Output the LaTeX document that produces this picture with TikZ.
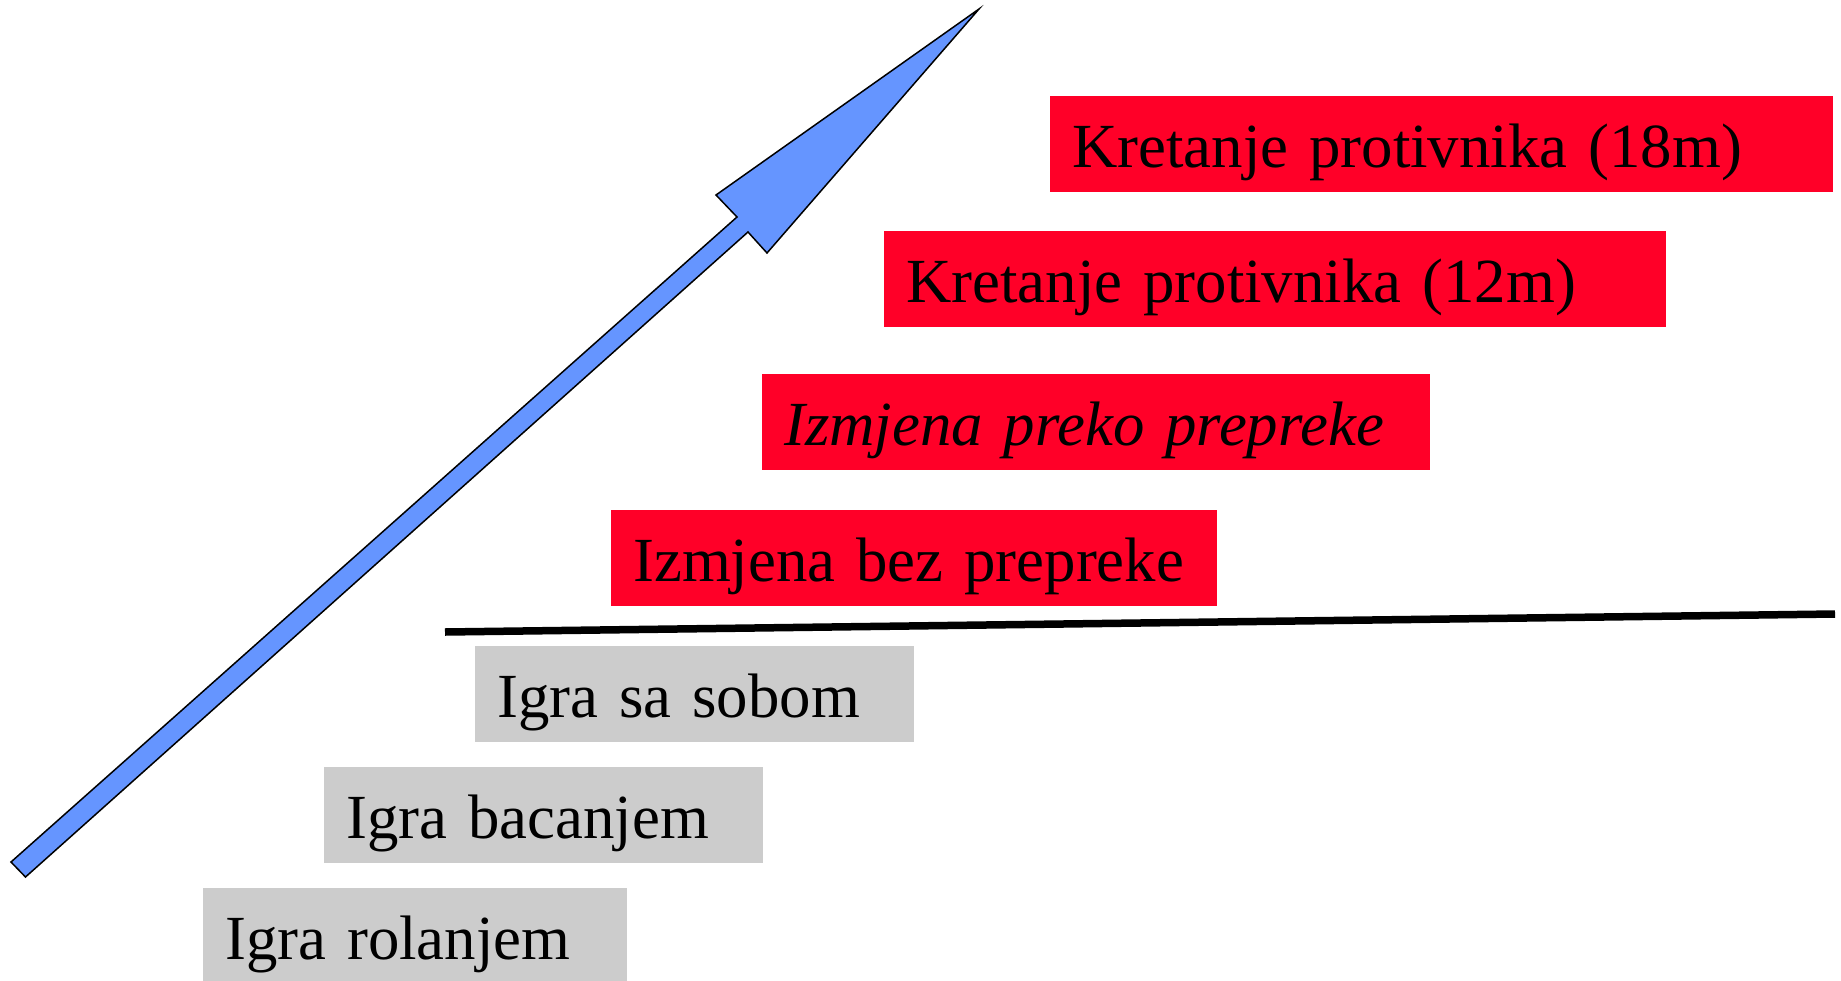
\documentclass[tikz,border=0pt]{standalone}
\usepackage{fontspec}
\setmainfont{Liberation Serif}
\usepackage{xcolor}
\usetikzlibrary{positioning}

\definecolor{boxred}{RGB}{255,0,40}
\definecolor{boxgray}{RGB}{204,204,204}
\definecolor{arrowblue}{RGB}{101,149,255}

\begin{document}
\begin{tikzpicture}[x=1pt,y=-1pt]
  \tikzset{stage/.style = {anchor=south west, inner xsep=22pt, inner ysep=0pt, text height=71.5pt, text depth=24.5pt, align=left, font=\fontsize{62.8}{70}\selectfont}}
    \tikzset{redstage/.style = {stage, fill=boxred}}
    \tikzset{graystage/.style = {stage, fill=boxgray}}
  \tikzset{bigarrow/.style = {fill=arrowblue, draw=black, line width=1.5pt, line join=miter}}

  \useasboundingbox (0,0) rectangle (1841,980);

	\node[redstage, text width=739pt] (K18) at (1050,192) {Kretanje protivnika (18m)};
	\node[redstage, text width=738pt] (K12) at (884,327) {Kretanje protivnika (12m)};
	\node[redstage, text width=624pt] (IP) at (762,470) {\itshape Izmjena preko prepreke};
	\node[redstage, text width=562pt] (IB) at (611,606) {Izmjena bez prepreke};

	\node[graystage, text width=395pt] (IS) at (475,742) {Igra sa sobom};
	\node[graystage, text width=395pt] (IBa) at (324,863) {Igra bacanjem};
	\node[graystage, text width=380pt] (IR) at (203,984) {Igra rolanjem};

	\coordinate (lineL) at (445,632);
	\coordinate (lineR) at (1835,614);
	\draw[line width=7.5pt] (lineL) -- (lineR);

    % arrow
    \filldraw[bigarrow] (11,862) -- (737,217) -- (716,195) -- (979,9) -- (767,253) -- (748,232) -- (25.5,877) -- cycle;

\end{tikzpicture}
\end{document}
